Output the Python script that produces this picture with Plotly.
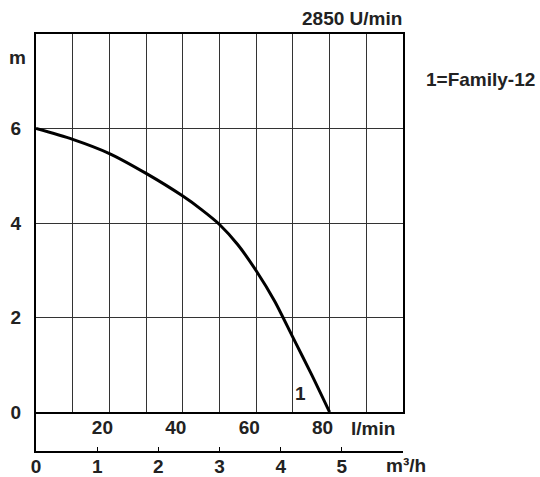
import plotly.graph_objects as go

flow_lmin = [0, 10, 20, 30, 40, 45, 50, 55, 60, 65, 70, 75, 80]
head_m = [6.0, 5.77, 5.47, 5.05, 4.57, 4.29, 3.97, 3.54, 2.99, 2.35, 1.58, 0.81, 0.0]
lmin_ticks = [10, 20, 30, 40, 50, 60, 70, 80, 90]
lmin_labels = ["", "20", "", "40", "", "60", "", "80", ""]
m3h_ticks = [0, 1, 2, 3, 4, 5]
head_ticks = [0, 2, 4, 6]

FONT = "Liberation Sans, Arial, sans-serif"
TXT = "#222"
FS = 19

fig = go.Figure()
fig.add_trace(go.Scatter(x=flow_lmin, y=head_m, mode="lines",
                         line=dict(color="black", width=3, shape="spline", smoothing=0.8),
                         hoverinfo="skip", showlegend=False))
# dummy trace for the second (m³/h) axis
fig.add_trace(go.Scatter(x=[0, 6], y=[0, 1], xaxis="x2", yaxis="y2", mode="markers",
                         marker=dict(opacity=0), hoverinfo="skip", showlegend=False))

band = 39 / 418
fig.update_layout(
    width=540, height=477,
    margin=dict(l=36, r=137, t=34, b=26, autoexpand=False),
    paper_bgcolor="white", plot_bgcolor="white",
    font=dict(family=FONT, size=FS, color=TXT, weight="bold"),
    xaxis=dict(range=[0, 100], tickvals=lmin_ticks, ticktext=lmin_labels,
               showgrid=True, gridcolor="#333", gridwidth=1,
               showline=True, linecolor="black", linewidth=2, mirror=True,
               zeroline=False, ticks="", ticklabelshift=-7, ticklabelstandoff=-3,
               anchor="y", fixedrange=True, automargin=False),
    yaxis=dict(range=[0, 8], domain=[band, 1], tickvals=head_ticks,
               showgrid=True, gridcolor="#333", gridwidth=1,
               showline=True, linecolor="black", linewidth=2, mirror=True,
               zeroline=False, ticks="", ticklabelstandoff=9, fixedrange=True,
               automargin=False),
    xaxis2=dict(range=[0, 6], tickvals=m3h_ticks, anchor="y2", showgrid=False,
                showline=True, linecolor="black", linewidth=2, zeroline=False,
                ticks="inside", ticklen=4, tickcolor="black", tickwidth=1,
                ticklabelstandoff=-3, fixedrange=True, automargin=False),
    yaxis2=dict(range=[0, 1], domain=[0, band], showgrid=False, showticklabels=False,
                showline=True, linecolor="black", linewidth=2, zeroline=False,
                anchor="x2", fixedrange=True, automargin=False),
)

# text labels positioned in pixel terms (plot area spans x 36..403, y 34..451)
annos = [
    ("2850 U/min", 404, "right", 18),
    ("1=Family-12", 424, "left", 79),
    ("m", 17, "center", 57),
    ("l/min", 373, "center", 428),
    ("m³/h", 406, "center", 465),
]
for text, px, xa, py in annos:
    fig.add_annotation(text=text, x=(px - 36) / (403 - 36), y=(451 - py) / (451 - 34),
                       xref="paper", yref="paper", xanchor=xa, yanchor="middle",
                       showarrow=False,
                       font=dict(family=FONT, size=FS, color=TXT, weight="bold"))

fig.add_annotation(text="1", x=72.2, y=0.4, xref="x", yref="y", showarrow=False,
                   font=dict(family=FONT, size=FS, color=TXT, weight="bold"))

fig.write_html("out.html", config={"displayModeBar": False},
               post_script="document.body.style.margin='0';")
